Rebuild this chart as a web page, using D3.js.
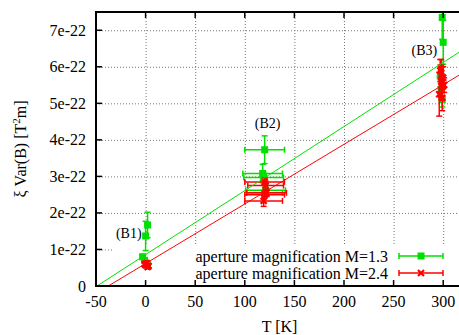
<!DOCTYPE html>
<html>
<head>
<meta charset="utf-8">
<script src="https://cdn.jsdelivr.net/npm/d3@7"></script>
<style>
  body { margin: 0; background: #fff; }
  svg { display: block; }
  text { font-family: "Liberation Serif", "Times New Roman", serif; fill: #000; }
</style>
</head>
<body>
<svg id="chart" width="459" height="335"></svg>
<script>
// values are in units of 1e-22 T^2 m
// aperture magnification M=1.3 (green)
const m13T    = [-3, -1, 0, 2, 2, 120, 118, 119, 121, 120, 299, 300, 297, 298, 299];
const m13V    = [0.80, 0.70, 1.37, 1.67, 0.60, 3.73, 3.08, 2.97, 2.62, 2.55, 7.35, 6.67, 5.75, 5.35, 5.10];
const m13TErr = [1, 1, 1, 1, 1, 20, 20, 20, 20, 18, 1, 1, 1, 1, 1];
const m13VErr = [0.06, 0.05, 0.40, 0.35, 0.06, 0.38, 0.25, 0.12, 0.15, 0.08, 0.6, 0.6, 0.3, 0.25, 0.2];

// aperture magnification M=2.4 (red)
const m24T    = [0, 1, 3, -1, 2, 120, 121, 122, 120, 119, 297, 298, 299, 300, 296, 301, 298, 299];
const m24V    = [0.57, 0.63, 0.55, 0.60, 0.52, 2.85, 2.75, 2.55, 2.50, 2.33, 5.90, 5.60, 5.45, 5.70, 5.25, 5.50, 5.95, 5.15];
const m24TErr = [1, 1, 1, 1, 1, 20, 18, 20, 20, 19, 1, 1, 1, 1, 1, 1, 1, 1];
const m24VErr = [0.05, 0.05, 0.05, 0.04, 0.04, 0.10, 0.12, 0.10, 0.10, 0.15, 0.30, 0.45, 0.35, 0.30, 0.60, 0.20, 0.25, 0.35];

// linear fits v = slope * T + intercept
const fitSlopes = [0.01753, 0.01632];
const fitIntercepts = [0.859, 0.614];

const seriesNames = ["aperture magnification M=1.3", "aperture magnification M=2.4"];
const seriesColors = ["#00e000", "#ff0000"];

const xTicks = [-50, 0, 50, 100, 150, 200, 250, 300];
const yTicks = [0, 1, 2, 3, 4, 5, 6, 7];

const groupLabels = ["(B1)", "(B2)", "(B3)"];
const groupLabelT = [-17, 123, 281];
const groupLabelV = [1.45, 4.46, 6.45];

// layout
const svg = d3.select("#chart");
const plotLeft = 96, plotTop = 12, plotBottom = 286;

const x = d3.scaleLinear().domain([-50, 320]).range([plotLeft, plotLeft + 370 * 0.992]);
const y = d3.scaleLinear().domain([0, 7.5]).range([plotBottom, plotTop]);
const xMax = x.range()[1];

// grid
const grid = svg.append("g")
  .attr("stroke", "#777")
  .attr("stroke-width", 1)
  .attr("stroke-dasharray", "1,2");

grid.selectAll(".gx")
  .data(xTicks.filter(d => d > -50))
  .enter().append("line")
  .attr("x1", d => x(d) + 0.5).attr("x2", d => x(d) + 0.5)
  .attr("y1", plotTop).attr("y2", plotBottom);

grid.selectAll(".gy")
  .data(yTicks.filter(d => d > 0))
  .enter().append("line")
  .attr("x1", plotLeft).attr("x2", xMax)
  .attr("y1", d => y(d) + 0.5).attr("y2", d => y(d) + 0.5);

// opaque key box covers the grid
svg.append("rect")
  .attr("x", 112).attr("y", 246)
  .attr("width", 360).attr("height", plotBottom - 246)
  .attr("fill", "#fff");

svg.append("defs").append("clipPath").attr("id", "plot")
  .append("rect")
  .attr("x", plotLeft).attr("y", plotTop)
  .attr("width", xMax - plotLeft).attr("height", plotBottom - plotTop);

const plot = svg.append("g").attr("clip-path", "url(#plot)");

// data with xy error bars
function drawSeries(T, V, TE, VE, color, marker) {
  const data = T.map((t, i) => ({ t: t, v: V[i], te: TE[i], ve: VE[i] }));
  const g = plot.append("g").attr("stroke", color).attr("stroke-width", 1.5);
  const cap = 3;
  data.forEach(d => {
    const cx = x(d.t), cy = y(d.v);
    const x0 = x(d.t - d.te), x1 = x(d.t + d.te);
    const y0 = y(d.v - d.ve), y1 = y(d.v + d.ve);
    g.append("line").attr("x1", x0).attr("x2", x1).attr("y1", cy).attr("y2", cy);
    g.append("line").attr("x1", x0).attr("x2", x0).attr("y1", cy - cap).attr("y2", cy + cap);
    g.append("line").attr("x1", x1).attr("x2", x1).attr("y1", cy - cap).attr("y2", cy + cap);
    g.append("line").attr("x1", cx).attr("x2", cx).attr("y1", y0).attr("y2", y1);
    g.append("line").attr("x1", cx - cap).attr("x2", cx + cap).attr("y1", y0).attr("y2", y0);
    g.append("line").attr("x1", cx - cap).attr("x2", cx + cap).attr("y1", y1).attr("y2", y1);
    marker(g, cx, cy);
  });
}

function squareMarker(g, cx, cy) {
  g.append("rect")
    .attr("x", cx - 3.5).attr("y", cy - 3.5)
    .attr("width", 7).attr("height", 7)
    .attr("fill", seriesColors[0]).attr("stroke", "none");
}

function crossMarker(g, cx, cy) {
  const s = 3;
  g.append("path")
    .attr("d", `M${cx - s},${cy - s}L${cx + s},${cy + s}M${cx - s},${cy + s}L${cx + s},${cy - s}`)
    .attr("stroke-width", 2.2).attr("fill", "none");
}

drawSeries(m13T, m13V, m13TErr, m13VErr, seriesColors[0], squareMarker);
drawSeries(m24T, m24V, m24TErr, m24VErr, seriesColors[1], crossMarker);

// fit lines
fitSlopes.forEach((s, i) => {
  const xs = [-50, 320];
  plot.append("line")
    .attr("x1", x(xs[0])).attr("y1", y(s * xs[0] + fitIntercepts[i]))
    .attr("x2", x(xs[1])).attr("y2", y(s * xs[1] + fitIntercepts[i]))
    .attr("stroke", seriesColors[i]).attr("stroke-width", 1);
});

// axes: border + inward ticks
const axes = svg.append("g").attr("stroke", "#000");
axes.append("rect")
  .attr("x", plotLeft).attr("y", plotTop)
  .attr("width", xMax - plotLeft).attr("height", plotBottom - plotTop)
  .attr("fill", "none").attr("stroke-width", 2);

axes.selectAll(".tb").data(xTicks).enter().append("line")
  .attr("x1", d => x(d)).attr("x2", d => x(d))
  .attr("y1", plotBottom).attr("y2", plotBottom - 6).attr("stroke-width", 1.5);
axes.selectAll(".tt").data(xTicks).enter().append("line")
  .attr("x1", d => x(d)).attr("x2", d => x(d))
  .attr("y1", plotTop).attr("y2", plotTop + 6).attr("stroke-width", 1.5);
axes.selectAll(".tl").data(yTicks).enter().append("line")
  .attr("x1", plotLeft).attr("x2", plotLeft + 6)
  .attr("y1", d => y(d)).attr("y2", d => y(d)).attr("stroke-width", 1.5);

svg.selectAll(".xl").data(xTicks).enter().append("text")
  .attr("x", d => x(d)).attr("y", 307)
  .attr("text-anchor", "middle").attr("font-size", 16)
  .text(d => d);

svg.selectAll(".yl").data(yTicks).enter().append("text")
  .attr("x", 86).attr("y", d => y(d) + 5.5)
  .attr("text-anchor", "end").attr("font-size", 16)
  .text(d => d === 0 ? "0" : d + "e-22");

svg.append("text")
  .attr("x", (plotLeft + xMax) / 2).attr("y", 332)
  .attr("text-anchor", "middle").attr("font-size", 16)
  .text("T [K]");

const yTitle = svg.append("text")
  .attr("transform", `translate(26,${(plotTop + plotBottom) / 2}) rotate(-90)`)
  .attr("text-anchor", "middle").attr("font-size", 16);
yTitle.append("tspan").text("ξ Var(B) [T");
yTitle.append("tspan").attr("font-size", 11).attr("dy", -6).text("2");
yTitle.append("tspan").attr("dy", 6).text("m]");

// group labels
svg.selectAll(".gl").data(groupLabels).enter().append("text")
  .attr("x", (d, i) => x(groupLabelT[i])).attr("y", (d, i) => y(groupLabelV[i]) + 5)
  .attr("text-anchor", "middle").attr("font-size", 14)
  .text(d => d);

// key
const key = svg.append("g");
seriesNames.forEach((name, i) => {
  const ky = i === 0 ? 256 : 273;
  key.append("text")
    .attr("x", 388).attr("y", ky + 5.5)
    .attr("text-anchor", "end").attr("font-size", 16)
    .text(name);
  const g = key.append("g").attr("stroke", seriesColors[i]).attr("stroke-width", 1.5);
  g.append("line").attr("x1", 399).attr("x2", 443).attr("y1", ky).attr("y2", ky);
  g.append("line").attr("x1", 399).attr("x2", 399).attr("y1", ky - 3).attr("y2", ky + 3);
  g.append("line").attr("x1", 443).attr("x2", 443).attr("y1", ky - 3).attr("y2", ky + 3);
  (i === 0 ? squareMarker : crossMarker)(g, 421, ky);
});
</script>
</body>
</html>
